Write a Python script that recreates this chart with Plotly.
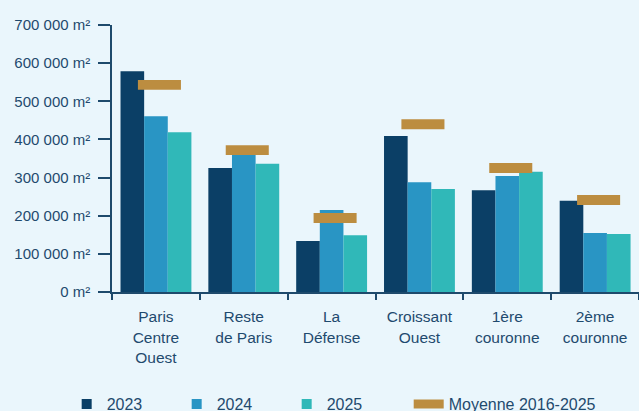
import plotly.graph_objects as go

categories = ["Paris<br>Centre<br>Ouest", "Reste<br>de Paris", "La<br>Défense",
              "Croissant<br>Ouest", "1ère<br>couronne", "2ème<br>couronne"]
v2023 = [579000, 325000, 134000, 409000, 267000, 239000]
v2024 = [461000, 359000, 215000, 288000, 304000, 155000]
v2025 = [419000, 336000, 149000, 270000, 315000, 152000]
moyenne = [543000, 372000, 194000, 440000, 325000, 241000]
ytick_vals = [0, 100000, 200000, 300000, 400000, 500000, 600000, 700000]
ytick_text = ["0 m²", "100 000 m²", "200 000 m²", "300 000 m²", "400 000 m²",
              "500 000 m²", "600 000 m²", "700 000 m²"]

C2023 = "#0B3F66"
C2024 = "#2995C4"
C2025 = "#30B8B8"
CGOLD = "#BC8D40"
BG = "#EAF6FC"
TXT = "#1F4A6E"
AX = "#1E4A6C"

bw = 0.269
fig = go.Figure()
for vals, col, off in [(v2023, C2023, -0.403), (v2024, C2024, -0.134), (v2025, C2025, 0.135)]:
    fig.add_trace(go.Bar(x=categories, y=vals, marker=dict(color=col, line=dict(width=0)),
                         width=bw, offset=off, showlegend=False))

thick = 26000
fig.add_trace(go.Bar(x=categories, y=[thick] * len(moyenne),
                     base=[m - thick / 2 for m in moyenne],
                     marker=dict(color=CGOLD, line=dict(width=0)),
                     width=0.49, offset=-0.205, showlegend=False))

# legend entries
for name, col in [("2023", C2023), ("2024", C2024), ("2025", C2025)]:
    fig.add_trace(go.Scatter(x=[None], y=[None], mode="markers", name=name, legend="legend",
                             marker=dict(symbol="square", size=10, color=col)))
fig.add_trace(go.Scatter(x=[None], y=[None], mode="lines", name="Moyenne 2016-2025",
                         legend="legend2", line=dict(color=CGOLD, width=9)))

fig.update_layout(
    width=639, height=411,
    barmode="overlay",
    paper_bgcolor=BG, plot_bgcolor=BG,
    margin=dict(l=112, r=0, t=25, b=119, autoexpand=False),
    font=dict(family="Liberation Sans, Arial, sans-serif", color=TXT),
    legend=dict(orientation="h", x=-0.086, xanchor="left", y=-0.42, yanchor="middle",
                font=dict(size=16, color=TXT), entrywidth=65, entrywidthmode="pixels",
                bgcolor="rgba(0,0,0,0)", itemsizing="trace"),
    legend2=dict(orientation="h", x=0.563, xanchor="left", y=-0.42, yanchor="middle",
                 font=dict(size=16, color=TXT), bgcolor="rgba(0,0,0,0)", itemsizing="trace"),
    xaxis=dict(type="category", showline=True, linecolor=AX, linewidth=1.5,
               ticks="outside", tickson="boundaries", ticklen=6, tickcolor=AX, tickwidth=1.5,
               tickfont=dict(size=15.5, color=TXT), showgrid=False, zeroline=False,
               range=[-0.5, 5.5], ticklabelstandoff=10),
    yaxis=dict(range=[0, 700000], tickvals=ytick_vals, ticktext=ytick_text,
               showline=True, linecolor=AX, linewidth=1.5, ticks="outside", ticklen=12,
               tickcolor=AX, tickwidth=1.5, tickfont=dict(size=15, color=TXT),
               showgrid=False, zeroline=False, ticklabelstandoff=5),
)

fig.write_html("out.html", config={"displayModeBar": False},
               post_script="document.body.style.margin='0';document.body.style.overflow='hidden';document.body.style.background='" + BG + "';")
